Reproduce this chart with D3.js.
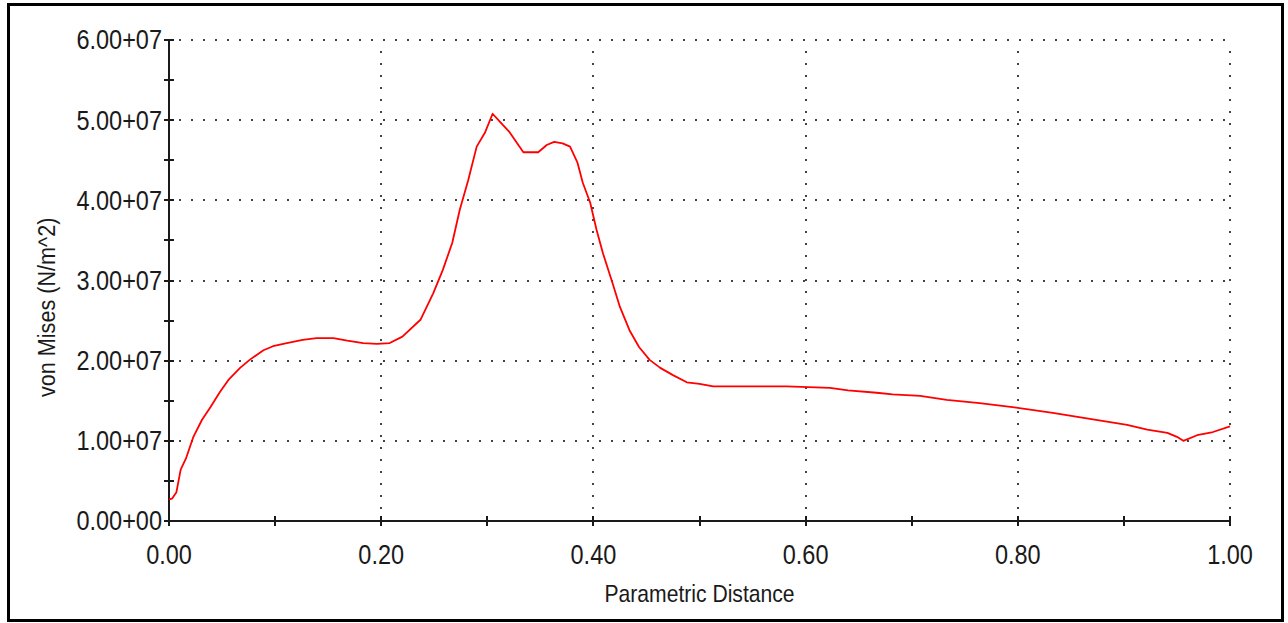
<!DOCTYPE html>
<html lang="en">
<head>
<meta charset="utf-8">
<title>von Mises along Parametric Distance</title>
<script src="https://d3js.org/d3.v7.min.js"></script>
<style>
  html, body { margin: 0; padding: 0; background: #fff; }
  svg text { font-family: "Liberation Sans", Arial, sans-serif; fill: #1a1a1a; }
</style>
</head>
<body>
<svg width="1288" height="623"></svg>
<script>
// Parametric distance along the path
var distance = [0.000, 0.003, 0.007, 0.011, 0.016, 0.023, 0.031, 0.039, 0.048, 0.056,
  0.067, 0.076, 0.089, 0.098, 0.111, 0.126, 0.139, 0.155, 0.168, 0.183,
  0.196, 0.208, 0.220, 0.237, 0.249, 0.258, 0.267, 0.274, 0.282, 0.290,
  0.298, 0.305, 0.312, 0.321, 0.334, 0.348, 0.356, 0.363, 0.371, 0.378,
  0.385, 0.390, 0.397, 0.403, 0.409, 0.418, 0.425, 0.434, 0.443, 0.453,
  0.463, 0.475, 0.488, 0.500, 0.513, 0.582, 0.623, 0.640, 0.667, 0.682,
  0.708, 0.733, 0.764, 0.795, 0.833, 0.865, 0.903, 0.922, 0.941, 0.950,
  0.956, 0.969, 0.984, 1.000];

// von Mises stress, N/m^2
var vonMises = [2.7e6, 2.8e6, 3.6e6, 6.4e6, 7.8e6, 1.05e7, 1.26e7, 1.42e7, 1.61e7, 1.76e7,
  1.91e7, 2.01e7, 2.13e7, 2.18e7, 2.22e7, 2.26e7, 2.28e7, 2.28e7, 2.25e7, 2.22e7,
  2.21e7, 2.22e7, 2.30e7, 2.51e7, 2.84e7, 3.13e7, 3.47e7, 3.88e7, 4.25e7, 4.67e7,
  4.85e7, 5.08e7, 4.98e7, 4.85e7, 4.60e7, 4.60e7, 4.69e7, 4.73e7, 4.71e7, 4.67e7,
  4.47e7, 4.22e7, 3.97e7, 3.63e7, 3.34e7, 2.97e7, 2.67e7, 2.38e7, 2.17e7, 2.01e7,
  1.91e7, 1.82e7, 1.73e7, 1.71e7, 1.68e7, 1.68e7, 1.66e7, 1.63e7, 1.60e7, 1.58e7,
  1.56e7, 1.51e7, 1.47e7, 1.42e7, 1.35e7, 1.28e7, 1.20e7, 1.14e7, 1.10e7, 1.05e7,
  1.00e7, 1.07e7, 1.11e7, 1.18e7];

// ticks
var xTickValues = [0, 0.2, 0.4, 0.6, 0.8, 1.0];
var xTickLabels = ["0.00", "0.20", "0.40", "0.60", "0.80", "1.00"];
var xMinorTicks = [0.1, 0.3, 0.5, 0.7, 0.9];
var yTickValues = [0, 1e7, 2e7, 3e7, 4e7, 5e7, 6e7];
var yTickLabels = ["0.00+00", "1.00+07", "2.00+07", "3.00+07", "4.00+07", "5.00+07", "6.00+07"];
var yMinorTicks = [0.5e7, 1.5e7, 2.5e7, 3.5e7, 4.5e7, 5.5e7];

var xTitle = "Parametric Distance";
var yTitle = "von Mises (N/m^2)";

var svg = d3.select("svg");

var x = d3.scaleLinear().domain([0, 1]).range([169, 1230]);
var y = d3.scaleLinear().domain([0, 6e7]).range([521, 40]);

// outer frame
svg.append("rect")
   .attr("x", 8.5).attr("y", 4.5)
   .attr("width", 1274).attr("height", 616)
   .attr("fill", "none")
   .attr("stroke", "#000")
   .attr("stroke-width", 3);

// dotted grid
var gridG = svg.append("g")
   .attr("stroke", "#444")
   .attr("stroke-width", 2)
   .attr("stroke-dasharray", "2 10")
   .attr("shape-rendering", "crispEdges");

gridG.selectAll("line.h")
   .data(yTickValues.slice(1))
   .enter().append("line")
   .attr("class", "h")
   .attr("x1", x(0) + 10).attr("x2", x(1) + 1)
   .attr("y1", function(d){ return Math.round(y(d)); })
   .attr("y2", function(d){ return Math.round(y(d)); });

gridG.selectAll("line.v")
   .data(xTickValues.slice(1))
   .enter().append("line")
   .attr("class", "v")
   .attr("y1", y(6e7) + 11).attr("y2", y(0))
   .attr("x1", function(d){ return Math.round(x(d)); })
   .attr("x2", function(d){ return Math.round(x(d)); });

// axes
var axisG = svg.append("g")
   .attr("stroke", "#1a1a1a")
   .attr("stroke-width", 2)
   .attr("shape-rendering", "crispEdges");

axisG.append("line")
   .attr("x1", x(0)).attr("x2", x(0))
   .attr("y1", y(6e7)).attr("y2", y(0));
axisG.append("line")
   .attr("x1", x(0)).attr("x2", x(1))
   .attr("y1", y(0)).attr("y2", y(0));

axisG.selectAll("line.yt")
   .data(yTickValues.concat(yMinorTicks))
   .enter().append("line")
   .attr("class", "yt")
   .attr("x1", x(0) - 5).attr("x2", x(0) + 5)
   .attr("y1", function(d){ return Math.round(y(d)); })
   .attr("y2", function(d){ return Math.round(y(d)); });

axisG.selectAll("line.xt")
   .data(xTickValues.concat(xMinorTicks))
   .enter().append("line")
   .attr("class", "xt")
   .attr("y1", y(0) - 5).attr("y2", y(0) + 5)
   .attr("x1", function(d){ return Math.round(x(d)); })
   .attr("x2", function(d){ return Math.round(x(d)); });

// tick labels (the original font is narrow, so squeeze it a bit)
svg.append("g").selectAll("text")
   .data(yTickValues)
   .enter().append("text")
   .attr("transform", function(d){ return "translate(" + (x(0) - 7) + "," + y(d) + ") scale(0.87,1)"; })
   .attr("text-anchor", "end")
   .attr("dy", "0.35em")
   .style("font-size", "27px")
   .text(function(d, i){ return yTickLabels[i]; });

svg.append("g").selectAll("text")
   .data(xTickValues)
   .enter().append("text")
   .attr("transform", function(d){ return "translate(" + x(d) + ",564) scale(0.87,1)"; })
   .attr("text-anchor", "middle")
   .style("font-size", "27px")
   .text(function(d, i){ return xTickLabels[i]; });

// axis titles
svg.append("text")
   .attr("transform", "translate(" + ((x(0) + x(1)) / 2) + ",602) scale(0.88,1)")
   .attr("text-anchor", "middle")
   .style("font-size", "24px")
   .text(xTitle);

svg.append("text")
   .attr("transform", "translate(55,397) rotate(-90) scale(0.9,1)")
   .attr("text-anchor", "start")
   .style("font-size", "24px")
   .text(yTitle);

// the curve
var line = d3.line()
   .x(function(d, i){ return x(distance[i]); })
   .y(function(d){ return y(d); });

svg.append("path")
   .datum(vonMises)
   .attr("d", line)
   .attr("fill", "none")
   .attr("stroke", "#ff0000")
   .attr("stroke-width", 1.8)
   .attr("stroke-linejoin", "round");
</script>
</body>
</html>
